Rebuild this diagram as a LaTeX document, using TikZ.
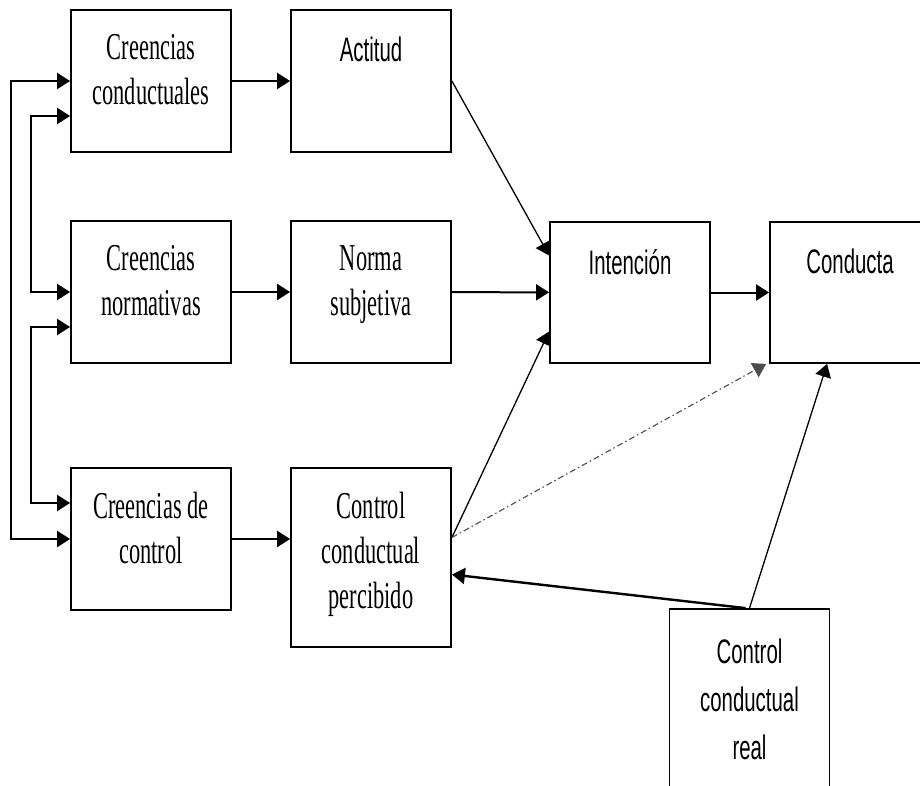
\documentclass[tikz,border=0pt]{standalone}
\usepackage{fontspec}
\setmainfont{Liberation Serif}
\newfontfamily\serifa[FakeStretch=0.59]{Liberation Serif}
\newfontfamily\sansa[FakeStretch=0.6]{Liberation Sans}
\usetikzlibrary{arrows.meta}
\tikzset{
  caja/.style={draw, line width=1.8pt, minimum width=160pt, inner sep=0pt},
  serif/.style={anchor=north, inner sep=0pt, align=center, font=\serifa\fontsize{38}{45}\selectfont},
  sans/.style={anchor=north, inner sep=0pt, align=center, font=\sansa\fontsize{34}{48}\selectfont},
  flecha/.style={->, line width=2pt},
  fina/.style={->, line width=1.3pt},
}
\begin{document}
\begin{tikzpicture}[>={Triangle[length=13pt,width=16pt]}, x=1pt, y=-1pt]
\useasboundingbox (0,0) rectangle (920,786);
% cajas
\node[caja, minimum height=142pt, label={[serif, yshift=-25pt]north:Creencias\\conductuales}](CC) at (151,81){};
\node[caja, minimum height=142pt, label={[sans, yshift=-28pt]north:Actitud}](Act) at (371,81){};
\node[caja, minimum height=142pt, label={[serif, yshift=-25pt]north:Creencias\\normativas}](CN) at (151,292){};
\node[caja, minimum height=142pt, label={[serif, yshift=-25pt]north:Norma\\subjetiva}](NS) at (371,292){};
\node[caja, minimum height=142pt, label={[serif, yshift=-25pt]north:Creencias de\\control}](CdC) at (151,539){};
\node[caja, minimum height=179pt, label={[serif, yshift=-25pt]north:Control\\conductual\\percibido}](CCP) at (371,557.5){};
\node[caja, minimum height=141pt, label={[sans, yshift=-28pt]north:Intención}](Int) at (630,292.5){};
\node[caja, minimum height=141pt, label={[sans, yshift=-28pt]north:Conducta}](Con) at (850,292.5){};
\node[caja, minimum height=180pt, label={[sans, yshift=-31pt]north:Control\\conductual\\real}](CCR) at (749.5,699){};

% entradas por la izquierda
\draw[flecha, <->] (CC.west) -- ++(-59,0) |- (CdC.west);
\draw[flecha, <->] ([yshift=-35pt]CC.west) -- ++(-39,0) |- (CN.west);
\draw[flecha, <->] ([yshift=-35pt]CN.west) -- ++(-39,0) |- ([yshift=36pt]CdC.west);

% filas
\draw[flecha] (CC) -- (Act);
\draw[flecha] (CN) -- (NS);
\draw[flecha] (CdC.east) -- (CdC.east -| CCP.west);
\draw[flecha] (NS) -- (Int);
\draw[flecha] (Int) -- (Con);

% diagonales
\draw[fina] (Act.east) -- ([yshift=37pt]Int.west);
\draw[fina] ([yshift=20pt]CCP.east) -- ([yshift=-39pt]Int.west);
\draw[->, line width=1.1pt, black!70, dash pattern=on 6pt off 3pt on 1.5pt off 3pt] ([yshift=20pt]CCP.east) -- ([xshift=-3pt]Con.south west);
\draw[fina] (CCR.north) -- ([xshift=58pt]Con.south west);
\draw[->, line width=2.4pt] ([xshift=-4pt]CCR.north) -- ([yshift=-17pt]CCP.east);
\end{tikzpicture}
\end{document}
